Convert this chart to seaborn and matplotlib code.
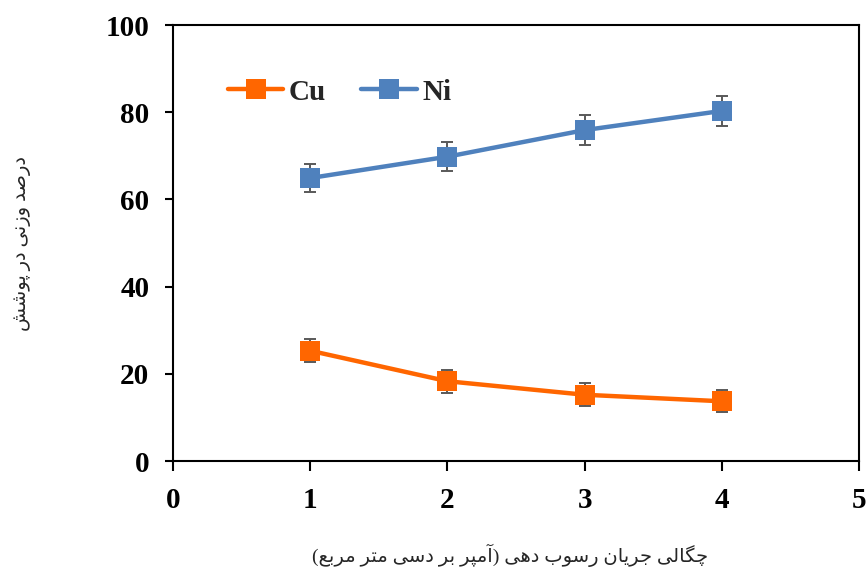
import numpy as np
import pandas as pd
import seaborn as sns
import matplotlib.pyplot as plt

# current density (A/dm2) vs. wt% in the coating
current = [1, 2, 3, 4]
cu = [25.3, 18.3, 15.2, 13.7]
cu_err = [2.6, 2.6, 2.6, 2.5]
ni = [64.9, 69.8, 75.9, 80.3]
ni_err = [3.3, 3.3, 3.4, 3.4]
series = ["Cu", "Ni"]
colors = ["#FF6600", "#4F81BD"]
x_ticks = [0, 1, 2, 3, 4, 5]
y_ticks = [0, 20, 40, 60, 80, 100]
x_label = "چگالی جریان رسوب دهی (آمپر بر دسی متر مربع)"
y_label = "درصد وزنی در پوشش"

# matplotlib does no arabic shaping, so pick the presentation forms here
# (isolated, final, initial, medial); 2-form letters only join to the right
FORMS = {
    "ا": "\uFE8D\uFE8E", "آ": "\uFE81\uFE82",
    "ب": "\uFE8F\uFE90\uFE91\uFE92", "پ": "\uFB56\uFB57\uFB58\uFB59",
    "ت": "\uFE95\uFE96\uFE97\uFE98", "ج": "\uFE9D\uFE9E\uFE9F\uFEA0",
    "چ": "\uFB7A\uFB7B\uFB7C\uFB7D", "د": "\uFEA9\uFEAA",
    "ر": "\uFEAD\uFEAE", "ز": "\uFEAF\uFEB0",
    "س": "\uFEB1\uFEB2\uFEB3\uFEB4", "ش": "\uFEB5\uFEB6\uFEB7\uFEB8",
    "ص": "\uFEB9\uFEBA\uFEBB\uFEBC", "ع": "\uFEC9\uFECA\uFECB\uFECC",
    "گ": "\uFB92\uFB93\uFB94\uFB95", "ل": "\uFEDD\uFEDE\uFEDF\uFEE0",
    "م": "\uFEE1\uFEE2\uFEE3\uFEE4", "ن": "\uFEE5\uFEE6\uFEE7\uFEE8",
    "و": "\uFEED\uFEEE", "ه": "\uFEE9\uFEEA\uFEEB\uFEEC",
    "ی": "\uFBFC\uFBFD\uFBFE\uFBFF",
}


def shape(text):
    out = []
    for i, ch in enumerate(text):
        if ch not in FORMS:
            out.append(ch)
            continue
        f = FORMS[ch]
        prev = text[i - 1] if i > 0 else ""
        nxt = text[i + 1] if i + 1 < len(text) else ""
        j_prev = prev in FORMS and len(FORMS[prev]) == 4
        j_next = len(f) == 4 and nxt in FORMS
        if j_prev and j_next:
            out.append(f[3])
        elif j_prev:
            out.append(f[1])
        elif j_next:
            out.append(f[2])
        else:
            out.append(f[0])
    vis = "".join(reversed(out))
    return vis.translate(str.maketrans("()", ")("))


df = pd.DataFrame({
    "current": current * 2,
    "wt": cu + ni,
    "metal": [series[0]] * len(current) + [series[1]] * len(current),
})

sns.set_theme(style="ticks")
plt.rcParams["font.family"] = ["Liberation Serif", "DejaVu Sans"]

fig = plt.figure(figsize=(8.67, 5.70), dpi=100)
ax = fig.add_axes([0.1995, 0.1912, 0.7913, 0.7649])

sns.lineplot(data=df, x="current", y="wt", hue="metal", palette=colors,
             marker="s", markersize=15, markeredgewidth=0, linewidth=3.2,
             ax=ax, zorder=3)

ax.errorbar(current, cu, yerr=cu_err, fmt="none", ecolor="#595959",
            elinewidth=1.4, capsize=4.5, capthick=1.4, zorder=2)
ax.errorbar(current, ni, yerr=ni_err, fmt="none", ecolor="#595959",
            elinewidth=1.4, capsize=4.5, capthick=1.4, zorder=2)

ax.set_xlim(0, 5)
ax.set_ylim(0, 100)
ax.set_xticks(x_ticks)
ax.set_yticks(y_ticks)
ax.set_xlabel("")
ax.set_ylabel("")
for lab in ax.get_xticklabels() + ax.get_yticklabels():
    lab.set_fontweight("bold")
    lab.set_fontsize(21)
    lab.set_family("Liberation Serif")
ax.tick_params(axis="x", direction="out", length=7, width=1.5, pad=12, colors="black")
ax.tick_params(axis="y", direction="out", length=6, width=1.5, pad=11, colors="black")
for sp in ax.spines.values():
    sp.set_visible(True)
    sp.set_linewidth(1.5)
    sp.set_color("black")

handles, labels = ax.get_legend_handles_labels()
ax.legend(handles, labels, ncol=2, loc="center left",
          bbox_to_anchor=(0.08, 0.846), frameon=False, borderpad=0,
          borderaxespad=0, handlelength=1.9, handletextpad=0.2,
          columnspacing=1.2,
          prop={"family": "Liberation Serif", "weight": "bold", "size": 21})

fig.text(0.588, 0.026, shape(x_label), ha="center", va="center", fontsize=14,
         family=["Liberation Serif", "DejaVu Sans"])
fig.text(0.026, 0.572, shape(y_label), ha="center", va="center", fontsize=14,
         rotation=90, family=["Liberation Serif", "DejaVu Sans"])

fig.savefig("out.png", dpi=100)
